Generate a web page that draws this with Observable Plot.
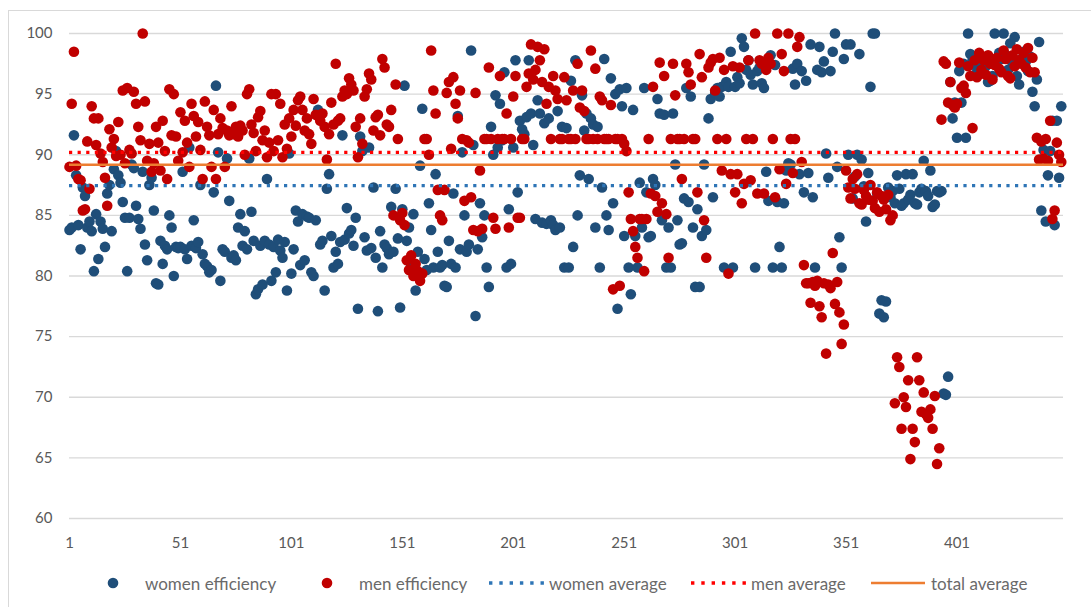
<!DOCTYPE html>
<html><head><meta charset="utf-8">
<script src="https://cdn.jsdelivr.net/npm/d3@7"></script>
<script src="https://cdn.jsdelivr.net/npm/@observablehq/plot@0.6"></script>
<style>
body{margin:0;background:#fff;overflow:hidden;font-family:Lato,"Open Sans",sans-serif;width:1091px;height:607px;position:relative}
#frame{position:absolute;left:8px;top:10px;width:1100px;height:620px;border:1px solid #d9d9d9;box-sizing:border-box}
#chart{position:absolute;left:0;top:0}
#legend{position:absolute;left:0;top:573px;width:1091px;height:20px;font-size:17px;color:#6a6a6a}
.item{position:absolute;top:0;height:20px;display:flex;align-items:center;white-space:nowrap}
.item svg{display:block}
</style></head>
<body>
<div id="frame"></div>
<div id="chart"></div>
<div id="legend"></div>
<script>
const women = [
83.8,84.0,91.6,88.3,84.2,82.2,87.3,86.6,84.0,84.5,
83.7,80.4,85.1,81.4,84.5,83.9,82.4,86.8,87.5,83.7,
88.8,90.3,88.3,87.7,86.1,84.8,80.4,84.8,89.2,88.9,
85.8,84.7,83.9,88.6,82.6,81.3,87.5,88.1,85.4,79.4,
79.3,82.9,81.0,82.5,82.2,85.0,84.0,80.0,82.4,82.3,
82.4,88.6,82.2,81.4,90.6,82.5,84.6,82.3,82.8,87.5,
81.8,81.0,80.8,80.3,80.5,86.9,95.7,90.2,79.6,82.2,
82.0,89.7,86.2,81.5,81.7,81.3,84.0,85.1,82.5,83.7,
82.2,89.7,85.3,82.9,78.5,78.9,82.5,79.3,82.9,88.0,
82.6,79.6,82.4,80.3,83.0,82.1,81.5,82.8,78.8,90.1,
80.2,82.2,85.4,84.5,80.9,85.1,81.3,84.9,84.8,80.3,
80.0,84.6,93.7,82.6,82.9,78.8,87.2,88.4,83.3,80.7,
82.0,81.0,82.8,91.6,83.0,85.6,83.5,83.8,82.5,84.8,
77.3,91.5,90.3,83.2,82.1,90.6,82.3,87.3,81.5,77.1,
83.7,80.7,82.6,82.3,81.8,85.7,82.0,87.2,83.1,77.4,
85.5,95.7,82.9,84.0,80.9,85.1,78.8,82.0,89.1,93.8,
81.4,80.5,86.0,83.8,80.7,88.4,82.0,80.7,80.9,79.2,
79.1,82.9,81.0,86.8,80.7,93.2,82.2,90.2,85.0,82.0,
82.6,98.6,90.8,76.7,82.2,86.0,83.2,85.0,80.7,79.1,
92.3,90.0,94.9,90.6,94.2,91.2,96.8,80.7,85.5,81.0,
90.6,97.8,86.9,92.8,92.1,91.7,93.1,97.8,93.4,90.8,
84.7,94.5,93.4,84.4,92.6,84.3,93.0,84.6,84.2,83.8,
93.6,84.0,92.3,80.7,92.2,80.7,96.1,82.4,97.8,85.0,
88.3,94.9,92.0,93.4,88.0,93.0,92.5,84.0,92.3,80.7,
87.3,97.9,85.0,83.8,96.3,86.0,95.0,77.3,95.4,94.0,
83.3,95.5,80.7,78.5,93.7,83.3,80.7,87.7,84.0,95.5,
86.9,83.2,83.3,88.0,87.5,94.6,93.4,84.6,93.3,80.7,
84.0,80.7,93.4,89.2,84.6,82.6,82.7,86.4,95.5,86.1,
94.8,84.0,79.1,85.5,79.1,83.3,89.2,83.8,93.0,94.6,
86.5,95.1,95.5,94.8,95.6,80.7,96.0,95.6,98.5,80.7,
95.6,96.4,95.9,99.6,98.9,97.0,97.8,96.6,95.8,80.7,
96.9,97.2,95.9,95.5,88.6,86.2,98.2,80.7,97.4,86.1,
82.4,80.7,86.0,88.7,89.3,89.2,97.1,95.8,97.5,88.4,
96.9,86.9,96.1,88.5,99.1,86.5,80.7,97.0,98.9,96.8,
97.7,90.1,88.1,96.9,98.5,100.0,89.0,83.2,80.7,97.9,
99.1,90.0,99.1,86.4,88.2,90.0,98.3,89.6,87.4,84.5,
88.5,95.6,100.0,100.0,86.8,76.9,78.0,76.6,77.9,87.3,
86.5,87.0,86.0,88.3,87.2,85.8,86.0,88.4,86.3,86.7,
88.4,86.0,85.9,86.9,87.2,89.5,87.0,86.6,88.7,85.7,
85.9,87.0,86.9,87.0,70.3,70.2,71.7,96.0,93.0,94.3,
91.4,96.9,94.3,97.5,91.4,100.0,98.3,97.8,96.6,97.2,
98.0,97.5,96.8,97.3,96.0,96.1,96.5,100.0,97.8,98.4,
97.9,100.0,98.2,97.0,99.2,97.6,99.7,96.5,95.8,97.9,
98.5,97.7,96.9,98.1,95.2,94.0,96.2,99.3,85.4,90.4,
84.5,88.3,90.3,92.8,84.2,92.8,88.1,94.0
];
const men = [
89.0,94.2,98.5,89.1,88.0,87.9,85.4,85.5,91.1,87.2,
94.0,93.0,90.8,93.0,90.1,89.4,88.1,85.8,92.1,90.6,
91.3,89.9,92.7,90.0,95.3,89.3,95.5,90.4,90.1,95.2,
94.2,92.3,91.2,100.0,94.4,89.5,90.9,88.6,89.3,92.3,
91.0,88.7,92.8,90.3,88.0,95.4,91.6,95.0,91.5,89.5,
93.5,90.2,92.8,91.0,89.0,94.2,93.2,91.5,92.7,90.4,
88.0,94.4,92.3,91.6,89.0,93.7,88.0,91.7,93.0,92.2,
89.0,92.0,91.6,94.0,91.7,92.3,91.5,92.4,92.0,90.0,
95.0,95.4,92.5,91.8,90.3,93.1,93.6,91.2,92.0,89.8,
91.0,95.0,90.3,95.0,91.2,94.2,89.8,92.5,90.5,93.0,
91.5,93.7,92.4,94.5,94.8,93.7,92.0,93.0,91.7,90.9,
94.6,93.3,93.2,92.8,93.4,92.3,89.6,91.7,94.3,92.5,
97.5,92.8,93.0,94.8,95.3,95.0,96.3,95.8,95.3,92.3,
89.8,93.0,90.9,94.8,95.4,96.7,96.2,92.0,93.1,93.3,
91.6,97.9,97.2,92.5,92.3,93.7,85.0,95.8,91.3,84.6,
85.2,84.2,81.3,80.5,81.7,80.0,81.0,80.4,79.6,80.2,
91.3,91.3,90.0,98.6,95.3,93.4,87.1,85.0,84.6,87.1,
95.1,96.0,90.5,96.4,94.2,93.0,95.3,91.3,86.2,91.2,
91.0,86.5,83.8,95.1,83.7,88.7,83.9,91.3,91.3,97.2,
91.3,84.8,83.9,91.3,96.5,91.3,91.3,93.4,84.0,91.3,
94.8,96.5,84.8,84.8,91.3,91.3,95.6,96.7,99.1,96.2,
97.0,98.9,97.8,96.0,98.7,94.2,95.6,91.3,96.5,95.3,
94.6,91.3,91.3,96.4,94.5,91.3,91.3,95.3,91.3,97.5,
93.9,95.3,93.6,91.3,91.3,98.6,91.3,97.1,91.3,94.8,
94.5,91.3,91.3,91.3,94.1,78.9,91.3,91.3,79.2,91.3,
90.9,90.3,86.9,84.7,83.7,82.4,81.5,84.7,84.7,80.4,
84.7,91.3,86.8,95.6,86.6,85.3,97.6,86.0,96.5,85.1,
81.5,91.3,97.5,94.9,91.3,91.3,88.0,91.3,97.5,96.8,
95.8,91.3,91.3,86.9,98.3,96.4,84.6,81.5,97.2,97.6,
97.9,95.3,91.3,98.0,88.7,97.0,91.3,80.2,88.4,97.3,
86.9,88.4,97.2,86.0,87.6,91.3,97.8,87.9,91.3,100.0,
86.8,97.8,97.5,86.8,97.0,98.0,97.5,91.3,86.5,100.0,
88.8,98.3,96.9,87.6,100.0,91.3,88.5,91.3,98.9,99.7,
89.4,80.9,79.4,79.4,77.8,79.5,79.2,79.6,77.5,76.6,
79.4,73.6,79.3,79.0,81.9,77.7,79.5,77.0,74.4,76.0,
88.7,87.3,86.4,88.0,87.2,88.4,86.0,85.9,87.1,86.6,
86.3,87.5,86.2,85.6,86.9,85.3,86.6,86.3,85.5,86.7,
84.6,85.0,69.5,73.3,72.5,67.4,70.0,69.2,71.4,64.9,
67.4,66.3,73.3,71.4,68.8,70.4,68.6,68.3,69.0,67.4,
70.1,64.5,65.8,92.9,97.7,97.5,94.3,96.0,94.1,93.9,
94.2,97.6,95.5,95.7,95.1,97.3,96.5,92.2,97.8,96.4,
98.4,97.0,97.8,96.6,98.2,97.5,96.2,97.4,98.0,97.1,
96.8,98.6,97.9,96.5,96.3,98.2,97.3,98.7,97.8,97.5,
98.4,97.2,98.8,96.8,98.0,96.8,91.4,89.6,91.1,89.7,
91.3,89.5,92.8,84.7,85.4,91.0,90.0,89.4
];
const averageNames = ["women average", "men average", "total average"];
const averageValues = [87.45, 90.2, 89.17];
const xTicks = [1, 51, 101, 151, 201, 251, 301, 351, 401];
const yTicks = [60, 65, 70, 75, 80, 85, 90, 95, 100];
const seriesNames = ["women efficiency", "men efficiency"];

const C = {women:"#1f4e79", men:"#c00000", wAvg:"#2e75b6", mAvg:"#ff0000", tAvg:"#ed7d31", grid:"#d9d9d9", text:"#595959"};

const rows = women.map((w, i) => ({i: i + 1, w, m: men[i]}));

const chart = Plot.plot({
  width: 1091,
  height: 560,
  marginLeft: 69,
  marginRight: 28,
  marginTop: 33,
  marginBottom: 42,
  style: {fontFamily: "Lato, 'Open Sans', sans-serif", fontSize: "15px", color: C.text, background: "transparent", overflow: "visible"},
  x: {type: "linear", domain: [1, 449]},
  y: {domain: [60, 100]},
  marks: [
    Plot.ruleY(yTicks, {stroke: C.grid, strokeWidth: 1.3}),
    Plot.axisY(yTicks, {tickSize: 0, tickPadding: 17, fill: C.text, fontSize: 15, label: null}),
    Plot.axisX(xTicks, {tickSize: 0, tickPadding: 19, fill: C.text, fontSize: 15, label: null}),
    Plot.dot(rows, {x: "i", y: "w", r: 5.3, fill: C.women}),
    Plot.dot(rows, {x: "i", y: "m", r: 5.3, fill: C.men}),
    Plot.ruleY([averageValues[0]], {stroke: C.wAvg, strokeWidth: 3.2, strokeDasharray: "3.2 5.4"}),
    Plot.ruleY([averageValues[1]], {stroke: C.mAvg, strokeWidth: 3.2, strokeDasharray: "3.2 5.4"}),
    Plot.ruleY([averageValues[2]], {stroke: C.tAvg, strokeWidth: 2.6})
  ]
});
document.getElementById("chart").appendChild(chart);

// legend
const legend = document.getElementById("legend");
const items = [
  {label: seriesNames[0], kind: "dot", color: C.women, left: 107},
  {label: seriesNames[1], kind: "dot", color: C.men, left: 321},
  {label: averageNames[0], kind: "dash", color: C.wAvg, left: 488},
  {label: averageNames[1], kind: "dash", color: C.mAvg, left: 690},
  {label: averageNames[2], kind: "line", color: C.tAvg, left: 870}
];
for (const it of items) {
  const d = document.createElement("div");
  d.className = "item";
  d.style.left = it.left + "px";
  const w = it.kind === "dot" ? 38 : 61;
  let sym;
  if (it.kind === "dot") sym = `<svg width="${w}" height="20"><circle cx="6" cy="10" r="5.3" fill="${it.color}"/></svg>`;
  else if (it.kind === "dash") sym = `<svg width="${w}" height="20"><line x1="1" x2="56" y1="10" y2="10" stroke="${it.color}" stroke-width="3.4" stroke-dasharray="3.4 6.9"/></svg>`;
  else sym = `<svg width="${w}" height="20"><line x1="1" x2="55" y1="10" y2="10" stroke="${it.color}" stroke-width="2.6"/></svg>`;
  d.innerHTML = sym + `<span>${it.label}</span>`;
  legend.appendChild(d);
}
</script>
</body></html>
